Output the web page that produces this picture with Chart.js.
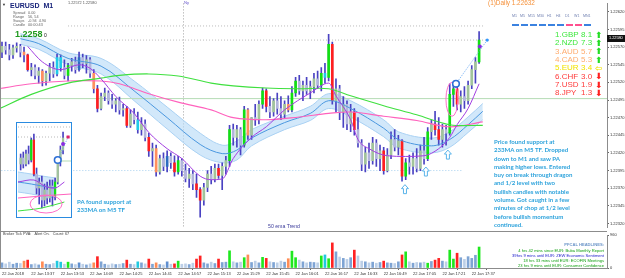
<!DOCTYPE html>
<html>
<head>
<meta charset="utf-8">
<script src="https://cdn.jsdelivr.net/npm/chart.js@4.4.1/dist/chart.umd.min.js"></script>
<style>
  html, body { margin: 0; padding: 0; background: #fff; }
  #wrap { position: relative; width: 625px; height: 278px; overflow: hidden; background: #fff; font-family: 'Liberation Sans', Arial, sans-serif; }
  #wrap canvas { position: absolute; }
  .t { position: absolute; white-space: nowrap; line-height: 1; }
  .ln { position: absolute; background: #8c8c8c; }
  .tf { position: absolute; top: 13.5px; font-size: 3.6px; color: #6f7fb0; white-space: nowrap; }
  .dash { position: absolute; top: 24px; width: 7px; height: 2px; }
  .cs { position: absolute; left: 555px; font-size: 8px; line-height: 8px; white-space: nowrap; }
  .cs b { font-weight: normal; position: absolute; left: 26px; }
  .cs i { font-style: normal; position: absolute; left: 40px; top: -0.5px; font-family: 'DejaVu Sans', sans-serif; font-size: 8.5px; font-weight: bold; }
  .note { position: absolute; color: #2ea3dc; font-family: Lato, sans-serif; font-weight: 700; white-space: nowrap; }
  .hl { position: absolute; right: 21px; font-size: 4.1px; line-height: 1; white-space: nowrap; text-align: right; }
  #inset { position: absolute; left: 16px; top: 122px; width: 54px; height: 94px; border: 1.5px solid #2a8be0; background: #fff; }
</style>
</head>
<body>
<div id="wrap">
  <canvas id="main" width="625" height="231" style="left:0;top:0"></canvas>
  <canvas id="vol" width="625" height="47" style="left:0;top:231px"></canvas>
  <div class="ln" style="left:0;top:0;width:1px;height:268px"></div>
  <div class="ln" style="left:0;top:231px;width:607px;height:1px"></div>

  <div id="inset"><canvas id="mini" width="53" height="93" style="left:0.5px;top:0.5px"></canvas></div>

  <!-- info panel -->
  <div class="t" style="left:2px;top:3px;font-size:4px;color:#333">▼</div>
  <div class="t" style="left:10px;top:2px;font-size:7px;font-weight:bold;color:#17237a">EURUSD&nbsp;&nbsp;M1</div>
  <div class="t" style="left:13px;top:10.5px;font-size:3.8px;color:#666;line-height:4px">Spread<br>Range<br>Swaps<br>Candle</div>
  <div class="t" style="left:28px;top:10.5px;font-size:3.8px;color:#666;line-height:4px">0.00<br>56, 54<br>-0.94&nbsp;&nbsp;4.90<br>00:00:43</div>
  <div class="t" style="left:15px;top:29.5px;font-size:9px;font-weight:bold;color:#1e9a1e">1.2258</div>
  <div class="t" style="left:44px;top:32.5px;font-size:5px;color:#111">0</div>
  <div class="t" style="left:68px;top:1.5px;font-size:3.8px;color:#555">1.22572 1.22580</div>
  <div class="t" style="left:184px;top:1px;font-size:4.2px;color:#6a5acd">Ny</div>
  <div class="t" style="left:488px;top:0px;font-size:6.4px;color:#f5913a">(1)Daily 1.22632</div>

  <!-- timeframe bar -->
  <div class="tf" style="left:512px">M1</div><div class="tf" style="left:520px">M5</div><div class="tf" style="left:528px">M15</div>
  <div class="tf" style="left:537px">M30</div><div class="tf" style="left:547px">H1</div><div class="tf" style="left:556px">H4</div>
  <div class="tf" style="left:565px">D1</div><div class="tf" style="left:574px">W1</div><div class="tf" style="left:583px">MN1</div>
  <div class="dash" style="left:512px;background:#3b82e0"></div><div class="dash" style="left:521px;background:#3b82e0"></div>
  <div class="dash" style="left:530px;background:#3b82e0"></div><div class="dash" style="left:539px;background:#3b82e0"></div>
  <div class="dash" style="left:548px;background:#3b82e0"></div><div class="dash" style="left:557px;background:#3b82e0"></div>
  <div class="dash" style="left:566px;background:#ff4f8f"></div><div class="dash" style="left:575px;background:#ff4f8f"></div>
  <div class="dash" style="left:584px;background:#3b82e0"></div>

  <!-- currency strength -->
  <div class="cs" style="top:31px;color:#3ee83e">1.GBP<b>8.1</b><i style="color:#22dd22">⬆</i></div>
  <div class="cs" style="top:39.3px;color:#3ee83e">2.NZD<b>7.3</b><i style="color:#22dd22">⬆</i></div>
  <div class="cs" style="top:47.7px;color:#ffac6e">3.AUD<b>5.7</b><i style="color:#22dd22">⬆</i></div>
  <div class="cs" style="top:56px;color:#ffac6e">4.CAD<b>5.3</b><i style="color:#22dd22">⬆</i></div>
  <div class="cs" style="top:64.3px;color:#f2e200">5.EUR<b>3.4</b><i style="color:#f2e200">⇦</i></div>
  <div class="cs" style="top:72.7px;color:#ff3a3a">6.CHF<b>3.0</b><i style="color:#ff2020">⬇</i></div>
  <div class="cs" style="top:81px;color:#ff3a3a">7.USD<b>1.9</b><i style="color:#ff2020">⬇</i></div>
  <div class="cs" style="top:89.3px;color:#ff3a3a">8.JPY<b>1.3</b><i style="color:#ff2020">⬇</i></div>

  <!-- current price box -->
  <div class="t" style="left:607px;top:35px;width:18px;height:7px;background:#111;color:#fff;font-size:3.8px;line-height:7px;padding-left:2px;box-sizing:border-box">1.22580</div>

  <!-- notes -->
  <div class="note" style="left:494px;top:138px;font-size:6.1px;line-height:8.3px">Price found support at<br>233MA on M5 TF. Dropped<br>down to M1 and saw PA<br>making higher lows. Entered<br>buy on break through dragon<br>and 1/2 level with two<br>bullish candles with notable<br>volume. Got caught in a few<br>minutes of chop at 1/2 level<br>before bullish momentum<br>continued.</div>
  <div class="note" style="left:77px;top:197.5px;font-size:6.1px;line-height:8px">PA found support at<br>233MA on M5 TF</div>
  <div class="t" style="left:268px;top:223.5px;font-size:5.2px;color:#3b3b9b">50 ema Trend</div>

  <!-- volume window texts -->
  <div class="t" style="left:3px;top:233px;font-size:3.8px;color:#444">Broker Tick PVA:&nbsp;&nbsp;&nbsp;Alert On.&nbsp;&nbsp;&nbsp;Count: 67</div>
  <div class="hl" style="top:242.5px;color:#6b94c8;font-weight:bold">PFCAL HEADLINES:</div>
  <div class="hl" style="top:249px;color:#12a012">4 hrs 42 mins since EUR: Buba Monthly Report</div>
  <div class="hl" style="top:254px;color:#2020cc">39hrs 9 mins until EUR: ZEW Economic Sentiment</div>
  <div class="hl" style="top:259px;color:#12a012">18 hrs 33 mins until EUR: ECOFIN Meetings</div>
  <div class="hl" style="top:264px;color:#12a012">23 hrs 9 mins until EUR: Consumer Confidence</div>
</div>

<script>
// EURUSD M1, 22 Jan 2018 – one entry per plotted candle (left to right)
const open = [1.22563,1.22571,1.22566,1.22559,1.22569,1.22571,1.22563,1.22559,1.22538,1.22541,
  1.22530,1.22536,1.22522,1.22533,1.22541,1.22532,1.22555,1.22541,1.22530,1.22544,
  1.22549,1.22538,1.22555,1.22547,1.22552,1.22533,1.22511,1.22483,1.22500,1.22505,
  1.22494,1.22489,1.22494,1.22481,1.22483,1.22459,1.22475,1.22467,1.22453,1.22461,
  1.22442,1.22423,1.22426,1.22393,1.22412,1.22401,1.22415,1.22406,1.22393,1.22409,
  1.22395,1.22384,1.22390,1.22376,1.22368,1.22353,1.22371,1.22390,1.22382,1.22398,
  1.22388,1.22401,1.22409,1.22453,1.22442,1.22453,1.22431,1.22481,1.22445,1.22470,
  1.22467,1.22489,1.22508,1.22486,1.22478,1.22494,1.22483,1.22475,1.22489,1.22481,
  1.22505,1.22522,1.22508,1.22516,1.22508,1.22514,1.22525,1.22516,1.22533,1.22527,
  1.22574,1.22494,1.22511,1.22478,1.22489,1.22461,1.22478,1.22453,1.22434,1.22404,
  1.22420,1.22409,1.22434,1.22412,1.22423,1.22395,1.22417,1.22439,1.22428,1.22437,
  1.22387,1.22406,1.22401,1.22412,1.22398,1.22423,1.22412,1.22450,1.22461,1.22453,
  1.22439,1.22453,1.22448,1.22503,1.22511,1.22489,1.22500,1.22494,1.22516,1.22538,
  1.22549];
const high = [1.22577,1.22577,1.22574,1.22573,1.22576,1.22574,1.22570,1.22560,1.22547,1.22545,
  1.22541,1.22538,1.22536,1.22547,1.22549,1.22560,1.22559,1.22552,1.22547,1.22554,
  1.22556,1.22563,1.22560,1.22558,1.22555,1.22538,1.22516,1.22505,1.22512,1.22508,
  1.22503,1.22497,1.22499,1.22489,1.22486,1.22481,1.22483,1.22478,1.22470,1.22467,
  1.22448,1.22434,1.22431,1.22417,1.22420,1.22423,1.22420,1.22416,1.22415,1.22412,
  1.22404,1.22398,1.22395,1.22390,1.22371,1.22377,1.22395,1.22401,1.22404,1.22404,
  1.22406,1.22415,1.22459,1.22461,1.22459,1.22456,1.22486,1.22483,1.22470,1.22489,
  1.22494,1.22512,1.22511,1.22500,1.22497,1.22505,1.22500,1.22494,1.22501,1.22514,
  1.22527,1.22530,1.22522,1.22527,1.22522,1.22533,1.22536,1.22541,1.22547,1.22588,
  1.22577,1.22525,1.22516,1.22500,1.22494,1.22489,1.22483,1.22470,1.22439,1.22428,
  1.22434,1.22442,1.22439,1.22431,1.22428,1.22426,1.22450,1.22453,1.22445,1.22439,
  1.22412,1.22417,1.22420,1.22426,1.22431,1.22442,1.22456,1.22467,1.22479,1.22470,
  1.22461,1.22459,1.22518,1.22519,1.22516,1.22508,1.22514,1.22522,1.22544,1.22555,
  1.22592];
const low = [1.22555,1.22560,1.22552,1.22554,1.22563,1.22556,1.22549,1.22536,1.22529,1.22525,
  1.22519,1.22515,1.22516,1.22522,1.22527,1.22529,1.22536,1.22525,1.22522,1.22536,
  1.22533,1.22536,1.22541,1.22533,1.22527,1.22505,1.22478,1.22481,1.22494,1.22489,
  1.22483,1.22478,1.22475,1.22472,1.22456,1.22456,1.22461,1.22448,1.22445,1.22437,
  1.22415,1.22401,1.22387,1.22390,1.22395,1.22393,1.22398,1.22387,1.22390,1.22387,
  1.22379,1.22371,1.22368,1.22357,1.22329,1.22346,1.22365,1.22376,1.22379,1.22384,
  1.22368,1.22390,1.22401,1.22431,1.22428,1.22417,1.22428,1.22439,1.22439,1.22459,
  1.22461,1.22483,1.22478,1.22470,1.22472,1.22475,1.22467,1.22470,1.22478,1.22478,
  1.22500,1.22503,1.22494,1.22503,1.22497,1.22505,1.22511,1.22508,1.22519,1.22522,
  1.22489,1.22478,1.22467,1.22456,1.22453,1.22450,1.22445,1.22428,1.22395,1.22393,
  1.22398,1.22404,1.22401,1.22395,1.22390,1.22393,1.22412,1.22423,1.22417,1.22380,
  1.22382,1.22390,1.22390,1.22393,1.22395,1.22404,1.22409,1.22439,1.22445,1.22431,
  1.22428,1.22431,1.22445,1.22486,1.22481,1.22478,1.22483,1.22489,1.22511,1.22519,
  1.22547];
const close = [1.22571,1.22566,1.22559,1.22569,1.22571,1.22563,1.22559,1.22538,1.22541,1.22530,
  1.22536,1.22522,1.22533,1.22541,1.22532,1.22555,1.22541,1.22530,1.22544,1.22549,
  1.22538,1.22555,1.22547,1.22552,1.22533,1.22511,1.22483,1.22500,1.22505,1.22494,
  1.22489,1.22494,1.22481,1.22483,1.22459,1.22475,1.22467,1.22453,1.22461,1.22442,
  1.22423,1.22426,1.22393,1.22412,1.22401,1.22415,1.22406,1.22393,1.22409,1.22395,
  1.22384,1.22390,1.22376,1.22368,1.22353,1.22371,1.22390,1.22382,1.22398,1.22388,
  1.22401,1.22409,1.22453,1.22442,1.22453,1.22431,1.22481,1.22445,1.22470,1.22467,
  1.22489,1.22508,1.22486,1.22478,1.22494,1.22483,1.22475,1.22489,1.22481,1.22505,
  1.22522,1.22508,1.22516,1.22508,1.22514,1.22525,1.22516,1.22533,1.22527,1.22574,
  1.22494,1.22511,1.22478,1.22489,1.22461,1.22478,1.22453,1.22434,1.22404,1.22420,
  1.22409,1.22434,1.22412,1.22423,1.22395,1.22417,1.22439,1.22428,1.22437,1.22387,
  1.22406,1.22401,1.22412,1.22398,1.22423,1.22412,1.22450,1.22461,1.22453,1.22439,
  1.22453,1.22448,1.22503,1.22511,1.22489,1.22500,1.22494,1.22516,1.22538,1.22549,
  1.22580];
const volume = [150,120,170,110,140,130,200,230,100,120,
  90,180,110,100,130,200,170,110,170,120,
  100,150,110,90,120,150,330,180,110,90,
  120,100,110,130,230,110,100,180,150,120,
  260,110,150,100,90,180,110,120,200,110,
  120,100,140,260,350,150,120,170,130,260,
  160,170,500,180,150,170,300,380,160,200,
  150,310,280,180,160,150,200,170,270,490,
  300,230,180,150,170,160,150,350,380,270,
  730,470,320,280,250,300,520,350,200,180,
  150,170,140,160,200,150,140,130,180,380,
  470,180,140,160,150,170,140,190,230,280,
  200,180,520,260,430,300,250,330,280,370,
  610];
// PVA colour class per candle: n normal, g bull climax, r bear climax, o bear rising, c cyan, b blue
const pva = 'nnnnnnornn' + 'nonnnccngn' + 'nbnnnornnn' + 'nnnnrnncnn' + 'rnonnbnrgn' +
  'nnnrrnnnnr' + 'nngnnngonn' + 'ngrnnnnnog' + 'gnnnnnngcg' + 'rnnnnnrnnn' +
  'nnnnrnnnnr' + 'gnnnnngnrr' + 'nnggrnnnnn' + 'g';

const priceTicks = [1.2262, 1.22595, 1.2257, 1.22545, 1.2252, 1.22495, 1.2247, 1.22445, 1.2242, 1.22395, 1.2237, 1.22345, 1.2232];
const volTicks = [0, 960];
const dateLabels = ['22 Jan 2018', '22 Jan 13:37', '22 Jan 13:53', '22 Jan 14:09', '22 Jan 14:25', '22 Jan 14:41',
  '22 Jan 14:57', '22 Jan 15:13', '22 Jan 15:29', '22 Jan 15:45', '22 Jan 16:01', '22 Jan 16:17',
  '22 Jan 16:33', '22 Jan 16:49', '22 Jan 17:05', '22 Jan 17:21', '22 Jan 17:37'];
const dateIdx = [0, 8, 16, 24, 32, 40, 48, 56, 64, 72, 80, 88, 96, 104, 112, 120, 128];

// dragon band (EMA high / low / close)
const bandIdx = [5, 10, 18, 27, 36, 45, 54, 60, 64, 68, 77, 84, 89, 95, 104, 108, 117, 122, 127, 131];
const bandHigh = [1.22589, 1.22582, 1.22562, 1.22554, 1.22522, 1.22485, 1.22448, 1.22431, 1.22437, 1.22453,
  1.22472, 1.22486, 1.22504, 1.22494, 1.22467, 1.22450, 1.22441, 1.22450, 1.22471, 1.22490];
const bandLow = [1.22574, 1.22567, 1.22545, 1.22532, 1.22494, 1.22454, 1.22417, 1.22406, 1.22410, 1.22430,
  1.22453, 1.22466, 1.22483, 1.22471, 1.22443, 1.22427, 1.22420, 1.22428, 1.22449, 1.22467];
const bandMid = [1.22582, 1.22575, 1.22554, 1.22543, 1.22508, 1.22470, 1.22432, 1.22419, 1.22424, 1.22441,
  1.22463, 1.22476, 1.22494, 1.22483, 1.22455, 1.22439, 1.22430, 1.22439, 1.22460, 1.22479];
// slow moving averages
const maIdx = [-1, 8, 18, 27, 32, 40, 48, 57, 63, 72, 81, 89, 95, 104, 113, 122, 131];
const greenMA = [1.22482, 1.22503, 1.22519, 1.22526, 1.22530, 1.22532, 1.22529, 1.22519, 1.22515, 1.22512,
  1.22511, 1.22511, 1.22501, 1.22487, 1.22474, 1.22460, 1.22459];
const pinkMA = [1.22511, 1.22518, 1.22522, 1.22522, 1.22518, 1.22504, 1.22492, 1.22481, 1.22470, 1.22467,
  1.22471, 1.22476, 1.22478, 1.22472, 1.22466, 1.22457, 1.22464];
// fast MA
const purpleIdx = [7, 11, 16, 21, 24, 27, 31, 36, 40, 45, 49, 54, 57, 60, 63, 68, 72, 77, 84, 89, 91, 95, 97,
  100, 105, 110, 115, 119, 122, 124, 127, 130];
const purpleMA = [1.22571, 1.22549, 1.22538, 1.22545, 1.22540, 1.22525, 1.22500, 1.22476, 1.22449, 1.22426,
  1.22412, 1.22387, 1.22382, 1.22383, 1.22412, 1.22442, 1.22457, 1.22481, 1.22505, 1.22519,
  1.22501, 1.22467, 1.22439, 1.22426, 1.22416, 1.22415, 1.22416, 1.22426, 1.22442, 1.22460, 1.22483, 1.22518];
// horizontal levels
const levelPrice = [1.22600, 1.22580, 1.22497, 1.22395];
const levelFrom = [18, 18, -1, -1];
const levelTo = [131.5, 133, 166, 125.5];
// markers
const nyIdx = 49.3;
const arrowIdx = [109.8, 115.5, 121.5];
const arrowTop = [1.22375, 1.22400, 1.22424];
const entry = { i: 123.7, p: 1.22518 };
const stopDot = { i: 130.2, p: 1.22571 };
const targetDot = { i: 132.2, p: 1.22580 };
const ringMark = { i: 122.6, p: 1.22496 };

// inset (M5 snapshot)
const miniOpen = [1.22540, 1.22564, 1.22540, 1.22580, 1.22556, 1.22636, 1.22500, 1.22444, 1.22468, 1.22396, 1.22436, 1.22404, 1.22452, 1.22412, 1.22468, 1.22548, 1.22596];
const miniHigh = [1.22580, 1.22588, 1.22596, 1.22612, 1.22644, 1.22660, 1.22524, 1.22484, 1.22492, 1.22460, 1.22468, 1.22476, 1.22476, 1.22484, 1.22564, 1.22612, 1.22668];
const miniLow = [1.22516, 1.22524, 1.22532, 1.22540, 1.22548, 1.22492, 1.22420, 1.22380, 1.22364, 1.22372, 1.22380, 1.22388, 1.22372, 1.22396, 1.22460, 1.22532, 1.22580];
const miniClose = [1.22564, 1.22540, 1.22580, 1.22556, 1.22636, 1.22500, 1.22444, 1.22468, 1.22396, 1.22436, 1.22404, 1.22452, 1.22412, 1.22468, 1.22548, 1.22596, 1.22644];
const miniPva = 'nnnngrnnnnnnngnnn';
const miniBandIdx = [-1, 4, 8, 13.3];
const miniBandHigh = [1.22508, 1.22500, 1.22492, 1.22484];
const miniBandLow = [1.22428, 1.22420, 1.22412, 1.22404];
const miniBandMid = [1.22468, 1.22460, 1.22452, 1.22444];
const miniPurpleIdx = [-1, 5, 9, 13, 16.5];
const miniPurple = [1.22468, 1.22476, 1.22452, 1.22444, 1.22468];
const miniPinkIdx = [-1, 8, 19];
const miniPink = [1.22404, 1.22412, 1.22420];
const miniGreenIdx = [-1, 8, 16.5];
const miniGreen = [1.22352, 1.22364, 1.22388];
const miniLevels = [1.22688, 1.22648];
const miniEntry = { i: 14, p: 1.22556 }, miniStop = { i: 16, p: 1.22620 }, miniTarget = { i: 17.9, p: 1.22648 }, miniRing = { i: 9.6, p: 1.22380 };

const WICK = '#4a42c2';
const BODY = { g: '#12e012', r: '#ff1f1f', o: '#ff8f5e', c: '#1fcbe8', b: '#2d6cc0' };
const VOLC = { g: '#1fe81f', r: '#ff2222', o: '#ff8c55', c: '#20c8e0', b: '#5f8fd0' };
const X_MIN = -0.545, X_MAX = 164.85;

function pts(xs, ys) { return xs.map((x, k) => ({ x, y: ys[k] })); }
function bodyCol(code, bull) { return code === 'n' ? (bull ? '#a2c49b' : '#b2b5dc') : BODY[code]; }
function candleSets(o, h, l, c, codes, bodyW) {
  const ix = o.map((_, i) => i);
  return [
    { type: 'bar', data: ix.map(i => ({ x: i, y: [l[i], h[i]] })), backgroundColor: WICK, barThickness: 1, grouped: false, order: 5 },
    { type: 'bar', data: ix.map(i => ({ x: i, y: [Math.min(o[i], c[i]), Math.max(o[i], c[i])] })),
      backgroundColor: ix.map(i => bodyCol(codes[i], c[i] >= o[i])), barThickness: bodyW, grouped: false, order: 4 },
  ];
}
function lineSet(data, color, width, order, extra) {
  return Object.assign({ type: 'line', data, borderColor: color, borderWidth: width, pointRadius: 0, tension: 0.35, fill: false, order }, extra || {});
}
function upArrow(ctx, cx, ty) {
  ctx.beginPath();
  ctx.moveTo(cx, ty); ctx.lineTo(cx + 3.5, ty + 4); ctx.lineTo(cx + 1.5, ty + 4); ctx.lineTo(cx + 1.5, ty + 9);
  ctx.lineTo(cx - 1.5, ty + 9); ctx.lineTo(cx - 1.5, ty + 4); ctx.lineTo(cx - 3.5, ty + 4); ctx.closePath();
  ctx.fillStyle = '#fff'; ctx.fill(); ctx.strokeStyle = '#5ab4ea'; ctx.lineWidth = 1; ctx.stroke();
}
function tradeMarks(ctx, x, y, en, st, tg, ring, rx, ry, squareTarget) {
  const ex = x.getPixelForValue(en.i), ey = y.getPixelForValue(en.p);
  const tx = x.getPixelForValue(tg.i), ty = y.getPixelForValue(tg.p);
  ctx.save();
  ctx.strokeStyle = '#ff6ec7'; ctx.lineWidth = 1;
  ctx.beginPath(); ctx.ellipse(x.getPixelForValue(ring.i), y.getPixelForValue(ring.p), rx, ry, 0, 0, Math.PI * 2); ctx.stroke();
  ctx.setLineDash([1, 1.5]); ctx.strokeStyle = '#5aa0f0';
  ctx.beginPath(); ctx.moveTo(ex, ey); ctx.lineTo(tx, ty); ctx.stroke(); ctx.setLineDash([]);
  ctx.beginPath(); ctx.arc(ex, ey, 3.3, 0, Math.PI * 2); ctx.fillStyle = '#fff'; ctx.fill();
  ctx.strokeStyle = '#2d6fd6'; ctx.lineWidth = 1.6; ctx.stroke();
  ctx.beginPath(); ctx.arc(x.getPixelForValue(st.i), y.getPixelForValue(st.p), 2, 0, Math.PI * 2); ctx.fillStyle = '#8a2be2'; ctx.fill();
  if (squareTarget) { ctx.fillStyle = '#e0206a'; ctx.fillRect(tx - 1.5, ty - 1.5, 3, 3); }
  else { ctx.beginPath(); ctx.arc(tx, ty, 1.6, 0, Math.PI * 2); ctx.fillStyle = '#3399ff'; ctx.fill(); }
  ctx.restore();
}

const overlay = {
  id: 'overlay',
  beforeDatasetsDraw(chart) {
    const { ctx, chartArea, scales: { x } } = chart;
    const px = Math.round(x.getPixelForValue(nyIdx)) + 0.5;
    ctx.save(); ctx.strokeStyle = '#a0a0a0'; ctx.lineWidth = 1; ctx.setLineDash([1, 2]);
    ctx.beginPath(); ctx.moveTo(px, chartArea.top); ctx.lineTo(px, chartArea.bottom); ctx.stroke(); ctx.restore();
  },
  afterDatasetsDraw(chart) {
    const { ctx, scales: { x, y } } = chart;
    arrowIdx.forEach((v, k) => upArrow(ctx, x.getPixelForValue(v), y.getPixelForValue(arrowTop[k])));
    tradeMarks(ctx, x, y, entry, stopDot, targetDot, ringMark, 6, 17, false);
  }
};
const miniOverlay = {
  id: 'miniOverlay',
  afterDatasetsDraw(chart) {
    const { ctx, scales: { x, y } } = chart;
    tradeMarks(ctx, x, y, miniEntry, miniStop, miniTarget, miniRing, 16, 9, true);
  }
};

const base = {
  responsive: false, animation: false, events: [],
  plugins: { legend: { display: false }, tooltip: { enabled: false } },
  layout: { padding: 0 },
};
const tickFont = { size: 4, family: "'Liberation Sans', Arial, sans-serif" };

const levelStyle = [
  { c: '#b9b9b9', d: [1, 2] }, { c: '#b9b9b9', d: [1, 2] }, { c: '#b5dcb5', d: [] }, { c: '#a6d0ee', d: [1, 2] },
];

new Chart(document.getElementById('main'), {
  type: 'bar',
  data: {
    datasets: [
      lineSet(pts(bandIdx, bandHigh), '#a9d1f3', 1, 11, { fill: '+1', backgroundColor: 'rgba(186,220,247,0.65)' }),
      lineSet(pts(bandIdx, bandLow), '#a9d1f3', 1, 10),
      lineSet(pts(bandIdx, bandMid), '#4a97df', 1, 3),
      ...levelPrice.map((p, k) => lineSet([{ x: levelFrom[k], y: p }, { x: levelTo[k], y: p }], levelStyle[k].c, 1, 9,
        { borderDash: levelStyle[k].d, tension: 0 })),
      ...candleSets(open, high, low, close, pva, 2),
      lineSet(pts(maIdx, greenMA), '#3fe03f', 1.1, 2),
      lineSet(pts(maIdx, pinkMA), '#ff62bd', 1.1, 2),
      lineSet(pts(purpleIdx, purpleMA), '#a23ee0', 1, 1, { cubicInterpolationMode: 'monotone' }),
    ]
  },
  options: Object.assign({}, base, {
    scales: {
      x: { type: 'linear', min: X_MIN, max: X_MAX, offset: false, display: false },
      y: {
        position: 'right', min: 1.223141, max: 1.22632,
        afterBuildTicks: s => { s.ticks = priceTicks.map(v => ({ value: v })); },
        afterFit: s => { s.width = 18; },
        ticks: { font: tickFont, color: '#333', padding: 1, callback: v => v.toFixed(5) },
        grid: { drawOnChartArea: false, tickLength: 2, color: '#666' },
        border: { display: true, color: '#8c8c8c' },
      }
    }
  }),
  plugins: [overlay]
});

const ix = volume.map((_, i) => i);
new Chart(document.getElementById('vol'), {
  type: 'bar',
  data: {
    datasets: [{
      data: ix.map(i => ({ x: i, y: volume[i] })),
      backgroundColor: ix.map(i => pva[i] === 'n' ? (close[i] >= open[i] ? '#7ea4d4' : '#bccfe7') : VOLC[pva[i]]),
      barThickness: 2, grouped: false,
    }]
  },
  options: Object.assign({}, base, {
    layout: { padding: { top: 4 } },
    scales: {
      x: {
        type: 'linear', min: X_MIN, max: X_MAX, offset: false,
        afterBuildTicks: s => { s.ticks = dateIdx.map(v => ({ value: v })); },
        afterFit: s => { s.height = 10; },
        ticks: { font: tickFont, color: '#333', align: 'start', padding: 1, maxRotation: 0, autoSkip: false, callback: (v, k) => dateLabels[k] },
        grid: { drawOnChartArea: false, tickLength: 2, color: '#666' },
        border: { display: true, color: '#8c8c8c' },
      },
      y: {
        position: 'right', min: 0, max: 960,
        afterBuildTicks: s => { s.ticks = volTicks.map(v => ({ value: v })); },
        afterFit: s => { s.width = 18; },
        ticks: { font: tickFont, color: '#333', padding: 1 },
        grid: { drawOnChartArea: false, tickLength: 2, color: '#666' },
        border: { display: true, color: '#8c8c8c' },
      }
    }
  })
});

new Chart(document.getElementById('mini'), {
  type: 'bar',
  data: {
    datasets: [
      lineSet(pts(miniBandIdx, miniBandHigh), '#a9d1f3', 1, 11, { fill: '+1', backgroundColor: 'rgba(186,220,247,0.65)' }),
      lineSet(pts(miniBandIdx, miniBandLow), '#a9d1f3', 1, 10),
      lineSet(pts(miniBandIdx, miniBandMid), '#4a97df', 1, 3),
      ...miniLevels.map(p => lineSet([{ x: -1, y: p }, { x: 19, y: p }], '#b9b9b9', 1, 9, { borderDash: [1, 2], tension: 0 })),
      lineSet([{ x: 13.3, y: 1.22552 }, { x: 19, y: 1.22552 }], '#b5dcb5', 1, 9, { tension: 0 }),
      ...candleSets(miniOpen, miniHigh, miniLow, miniClose, miniPva, 1.6),
      lineSet(pts(miniGreenIdx, miniGreen), '#3fe03f', 1, 2),
      lineSet(pts(miniPinkIdx, miniPink), '#ff62bd', 1, 2),
      lineSet(pts(miniPurpleIdx, miniPurple), '#a23ee0', 1, 1),
    ]
  },
  options: Object.assign({}, base, {
    scales: {
      x: { type: 'linear', min: -1, max: 19, offset: false, display: false },
      y: { min: 1.22328, max: 1.22700, display: false },
    }
  }),
  plugins: [miniOverlay]
});
</script>
</body>
</html>
